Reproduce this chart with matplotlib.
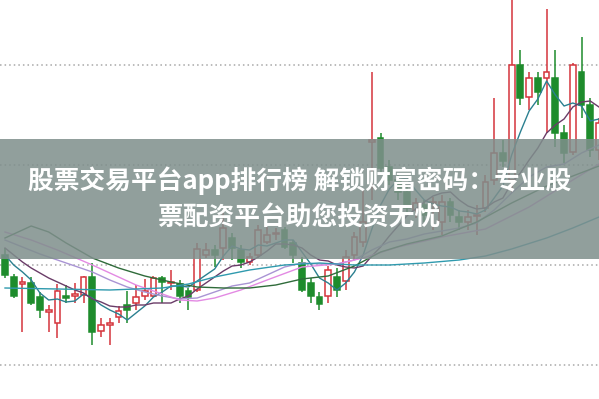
import numpy as np
import matplotlib
matplotlib.use("Agg")
import matplotlib.pyplot as plt
from matplotlib.patches import Rectangle

# daily candles (price units, arbitrary scale; gridlines at 10/11/12/13)
opens = [11.10, 10.88, 10.81, 10.82, 10.68, 10.53, 10.42, 10.69, 10.69, 10.70,
         10.88, 10.34, 10.40, 10.48, 10.60, 10.62, 10.69, 10.69, 10.87, 10.82,
         10.81, 10.74, 10.75, 11.10, 11.15, 11.17, 11.27, 11.15, 11.03, 11.10,
         11.23, 11.31, 11.35, 11.22, 11.02, 10.82, 10.68, 10.69, 10.88, 10.84,
         11.10, 11.23, 12.23, 12.27, 11.98, 11.85, 11.73, 11.55, 11.60, 11.62,
         11.43, 11.63, 11.48, 11.43, 11.49, 11.57, 11.85, 12.12, 11.85, 13.00,
         12.68, 12.87, 12.87, 12.87, 12.32, 12.13, 12.93, 12.60, 12.15]
closes = [10.90, 10.69, 10.83, 10.62, 10.55, 10.55, 10.74, 10.67, 10.71, 10.88,
          10.33, 10.40, 10.42, 10.54, 10.55, 10.68, 10.74, 10.87, 10.83, 10.83,
          10.69, 10.68, 11.16, 11.15, 11.10, 11.37, 11.17, 11.03, 11.08, 11.35,
          11.30, 11.32, 11.18, 11.10, 10.75, 10.69, 10.61, 10.95, 10.75, 11.08,
          11.28, 11.43, 12.25, 11.97, 11.85, 11.73, 11.57, 11.62, 11.50, 11.63,
          11.63, 11.50, 11.43, 11.48, 11.50, 11.83, 12.12, 12.04, 13.00, 12.67,
          12.87, 12.73, 12.93, 12.32, 12.12, 13.00, 12.60, 12.15, 12.42]
highs = [11.17, 10.91, 10.88, 10.88, 10.73, 10.60, 10.81, 10.80, 10.82, 10.89,
         11.02, 10.47, 10.47, 10.59, 10.74, 10.80, 10.86, 10.89, 10.89, 10.95,
         10.85, 10.77, 11.22, 11.22, 11.20, 11.55, 11.32, 11.20, 11.12, 11.40,
         11.38, 11.37, 11.38, 11.25, 11.08, 10.87, 10.73, 10.99, 10.97, 11.15,
         11.33, 11.75, 12.93, 12.32, 12.05, 11.90, 11.80, 11.67, 11.65, 11.68,
         11.70, 11.67, 11.55, 11.55, 11.60, 11.90, 12.67, 12.25, 13.70, 13.15,
         12.93, 12.93, 13.56, 13.15, 12.40, 13.02, 13.28, 12.67, 12.47]
lows = [10.87, 10.67, 10.33, 10.60, 10.47, 10.33, 10.27, 10.62, 10.62, 10.62,
        10.20, 10.28, 10.20, 10.42, 10.42, 10.55, 10.65, 10.68, 10.62, 10.75,
        10.62, 10.55, 10.73, 11.07, 10.98, 11.05, 11.05, 10.97, 11.00, 11.07,
        11.21, 11.25, 11.16, 11.02, 10.73, 10.62, 10.55, 10.62, 10.68, 10.75,
        11.05, 11.18, 11.65, 11.90, 11.80, 11.65, 11.50, 11.47, 11.43, 11.35,
        11.30, 11.43, 11.35, 11.35, 11.30, 11.53, 11.80, 11.98, 11.72, 12.60,
        12.55, 12.60, 12.32, 12.18, 12.02, 12.10, 12.47, 12.08, 12.05]

# moving averages
ma5 = [11.10, 11.00, 10.93, 10.85, 10.72, 10.65, 10.66, 10.63, 10.64, 10.71,
       10.67, 10.60, 10.55, 10.51, 10.45, 10.52, 10.59, 10.68, 10.73, 10.79,
       10.79, 10.78, 10.84, 10.90, 10.96, 11.09, 11.19, 11.16, 11.15, 11.20,
       11.19, 11.22, 11.25, 11.25, 11.13, 11.01, 10.87, 10.82, 10.75, 10.82,
       10.93, 11.10, 11.36, 11.60, 11.76, 11.85, 11.87, 11.75, 11.65, 11.61,
       11.59, 11.58, 11.54, 11.53, 11.51, 11.55, 11.67, 11.79, 12.10, 12.33,
       12.54, 12.66, 12.84, 12.70, 12.59, 12.62, 12.59, 12.44, 12.46]
ma10 = [11.17, 11.10, 11.03, 10.97, 10.92, 10.87, 10.83, 10.79, 10.75, 10.72,
        10.66, 10.63, 10.59, 10.58, 10.58, 10.60, 10.60, 10.62, 10.62, 10.62,
        10.66, 10.69, 10.76, 10.82, 10.88, 10.94, 10.99, 11.00, 11.03, 11.08,
        11.14, 11.21, 11.21, 11.20, 11.17, 11.10, 11.05, 11.04, 11.00, 10.98,
        10.97, 10.99, 11.09, 11.18, 11.29, 11.39, 11.49, 11.56, 11.63, 11.69,
        11.72, 11.73, 11.65, 11.59, 11.56, 11.57, 11.63, 11.67, 11.82, 11.92,
        12.05, 12.17, 12.32, 12.40, 12.46, 12.58, 12.63, 12.64, 12.58]

ma20_idx = [0, 2, 4, 6, 8, 10, 12, 14, 16, 18, 20, 22, 24, 26, 28, 30, 32, 34,
            36, 38, 40, 42, 44, 46, 48, 50, 52, 54, 56, 58, 60, 62, 64, 66, 68]
ma20 = [11.25, 11.18, 11.11, 11.05, 10.99, 10.93, 10.85, 10.78, 10.73, 10.69,
        10.66, 10.67, 10.73, 10.79, 10.82, 10.90, 10.98, 11.02, 11.01, 11.01,
        11.05, 11.15, 11.23, 11.26, 11.31, 11.34, 11.37, 11.42, 11.55, 11.72,
        11.88, 11.98, 12.01, 12.12, 12.20]

ma30_idx = [0, 3, 6, 10, 15, 20, 22, 24, 27, 30, 34, 38, 41, 45, 50, 55, 60, 65, 68]
ma30 = [11.33, 11.25, 11.15, 11.00, 10.80, 10.65, 10.64, 10.67, 10.75, 10.85,
        10.98, 11.01, 11.07, 11.18, 11.28, 11.36, 11.58, 11.85, 12.01]

ma60_idx = [0, 1, 3, 5, 7, 10, 13, 16, 19, 22, 25, 28, 31, 34, 37, 40, 43, 46,
            50, 54, 58, 62, 65, 68]
ma60 = [11.27, 11.31, 11.39, 11.33, 11.22, 11.07, 10.97, 10.89, 10.83, 10.78,
        10.77, 10.77, 10.80, 10.86, 10.89, 10.99, 11.13, 11.21, 11.29, 11.43,
        11.62, 11.79, 11.89, 11.99]

ma120_idx = [0, 6, 12, 18, 21, 24, 28, 32, 36, 40, 44, 48, 52, 55, 58, 62, 65, 68]
ma120 = [10.77, 10.76, 10.75, 10.77, 10.81, 10.88, 10.95, 11.00, 11.02, 11.00,
         11.00, 11.02, 11.05, 11.09, 11.16, 11.27, 11.37, 11.48]

title_lines = ["股票交易平台app排行榜 解锁财富密码：专业股", "票配资平台助您投资无忧"]

RED = "#d4343c"
GREEN = "#1e8c2c"

plt.rcParams["font.family"] = ["Noto Sans CJK SC", "DejaVu Sans"]

fig = plt.figure(figsize=(5.99, 3.99), dpi=100)
ax = fig.add_axes([0, 0, 1, 1])
ax.set_xlim(-0.572, 68.0)
ax.set_ylim(9.66, 13.65)
ax.axis("off")

for g in [10, 11, 12, 13]:
    ax.axhline(g, color="#a8a8a8", lw=1.1, ls=(0, (1, 2)), zorder=1)

x = np.arange(len(opens))
o = np.array(opens)
c = np.array(closes)
up = c >= o
cols = np.where(up, RED, GREEN)

ax.vlines(x, lows, highs, colors=cols, lw=1.1, zorder=2)
body_h = np.maximum(np.abs(c - o), 0.012)
ax.bar(x, body_h, bottom=np.minimum(o, c), width=0.66,
       color=np.where(up, "white", GREEN), edgecolor=cols, linewidth=1.1, zorder=3)

ax.plot(x, ma5, color="#2b8090", lw=1.0, zorder=4)
ax.plot(x, ma10, color="#6a3c68", lw=1.0, zorder=4)
ax.plot(ma20_idx, ma20, color="#a994d4", lw=1.0, zorder=4)
ax.plot(ma30_idx, ma30, color="#e38ae3", lw=1.0, zorder=4)
ax.plot(ma60_idx, ma60, color="#2f6b3a", lw=1.0, zorder=4)
ax.plot(ma120_idx, ma120, color="#2f9aae", lw=1.0, zorder=4)

# grey caption banner
fig.add_artist(Rectangle((0, 0.351), 1, 0.301, transform=fig.transFigure,
                         facecolor="#7f8f8c", alpha=0.86, edgecolor="none", zorder=10))
fig.text(0.5, 0.546, title_lines[0], ha="center", va="center", color="white",
         fontsize=18.5, fontweight="bold", zorder=11)
fig.text(0.5, 0.454, title_lines[1], ha="center", va="center", color="white",
         fontsize=18.5, fontweight="bold", zorder=11)

fig.savefig("out.png", dpi=100)
